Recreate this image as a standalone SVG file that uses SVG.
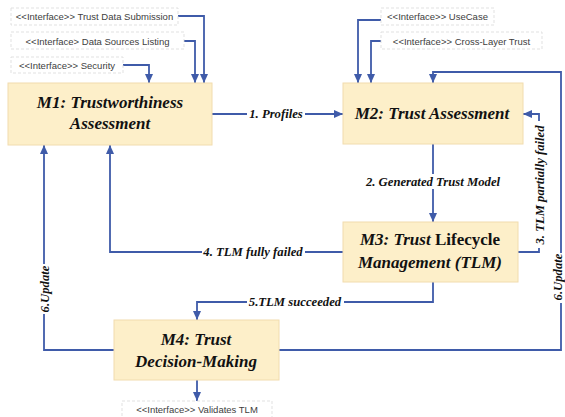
<svg xmlns="http://www.w3.org/2000/svg" width="565" height="417" viewBox="0 0 565 417">
<style>
.box{fill:#fdefc9;stroke:#f1dcae;stroke-width:1}
.ibox{fill:#fff;stroke:#d9d9d9;stroke-width:0.8;stroke-dasharray:3 2}
.itxt{font-size:9.5px;fill:#404040;text-anchor:middle}
.ntxt{font-size:17px;font-weight:bold;font-style:italic;fill:#111;text-anchor:middle}
.etxt{font-size:12.7px;font-weight:bold;font-style:italic;fill:#111;text-anchor:middle}
.bg{fill:#fff}
.ln{fill:none;stroke:#3f5ba9;stroke-width:1.8}
</style>
<defs>
<marker id="ah" markerUnits="userSpaceOnUse" markerWidth="10" markerHeight="10" refX="9" refY="5" orient="auto">
<path d="M0,1 L9,5 L0,9 Z" fill="#3f5ba9"/>
</marker>
</defs>
<rect width="565" height="417" fill="#fff"/>
<g id="connectors">
<path class="ln" marker-end="url(#ah)" d="M178,16 H204 V83"/>
<path class="ln" marker-end="url(#ah)" d="M184,41 H195 V83"/>
<path class="ln" marker-end="url(#ah)" d="M123,65 H149 V83"/>
<path class="ln" marker-end="url(#ah)" d="M381,20 H358 V83"/>
<path class="ln" marker-end="url(#ah)" d="M381,41 H371 V83"/>
<path class="ln" marker-end="url(#ah)" d="M212,114 H343"/>
<path class="ln" marker-end="url(#ah)" d="M433,144 V222"/>
<path class="ln" marker-end="url(#ah)" d="M518,252 H539 V114 H523"/>
<path class="ln" marker-end="url(#ah)" d="M343,252 H110 V145"/>
<path class="ln" marker-end="url(#ah)" d="M433,282 V302 H197 V320"/>
<path class="ln" marker-end="url(#ah)" d="M114,350 H44 V145"/>
<path class="ln" marker-end="url(#ah)" d="M279,350 H561 V72 H433 V83"/>
<path class="ln" marker-end="url(#ah)" d="M197,380 V401"/>
<g font-family="'Liberation Serif', 'DejaVu Serif', 'Times New Roman', serif">
<rect class="bg" x="247" y="106" width="58" height="15"/>
<text class="etxt" x="276" y="118">1. Profiles</text>
<rect class="bg" x="364" y="174" width="138" height="15"/>
<text class="etxt" x="433" y="186">2. Generated Trust Model</text>
<rect class="bg" x="532" y="121" width="14" height="127"/>
<text class="etxt" transform="translate(543.5,185) rotate(-90)">3. TLM  partially failed</text>
<rect class="bg" x="202" y="244" width="103" height="15"/>
<text class="etxt" x="253" y="256">4. TLM fully failed</text>
<rect class="bg" x="247" y="294" width="97" height="15"/>
<text class="etxt" x="295" y="306">5.TLM succeeded</text>
<rect class="bg" x="37" y="264" width="14" height="50"/>
<text class="etxt" transform="translate(48.5,289) rotate(-90)">6.Update</text>
<rect class="bg" x="551" y="253" width="14" height="50"/>
<text class="etxt" transform="translate(561.5,277) rotate(-90)">6.Update</text>
</g>
</g>
<g font-family="'Liberation Sans', Arial, sans-serif">
<g id="if-tds"><rect class="ibox" x="11" y="8" width="167" height="17"/><text class="itxt" x="94.5" y="20">&lt;&lt;Interface&gt;&gt; Trust Data Submission</text></g>
<g id="if-dsl"><rect class="ibox" x="11" y="32" width="173" height="17"/><text class="itxt" x="97.5" y="44.5">&lt;&lt;Interface&gt; Data Sources Listing</text></g>
<g id="if-sec"><rect class="ibox" x="11" y="57" width="112" height="16"/><text class="itxt" x="67" y="68.5">&lt;&lt;Interface&gt;&gt; Security</text></g>
<g id="if-uc"><rect class="ibox" x="381" y="8" width="113" height="17"/><text class="itxt" x="437.5" y="20">&lt;&lt;Interface&gt;&gt; UseCase</text></g>
<g id="if-clt"><rect class="ibox" x="381" y="32" width="161" height="17"/><text class="itxt" x="461.5" y="44.5">&lt;&lt;Interface&gt;&gt; Cross-Layer Trust</text></g>
<g id="if-vtlm"><rect class="ibox" x="122" y="401" width="150" height="20"/><text class="itxt" x="197" y="413">&lt;&lt;Interface&gt;&gt; Validates TLM</text></g>
</g>
<g font-family="'Liberation Serif', 'DejaVu Serif', 'Times New Roman', serif">
<g id="m1"><rect class="box" x="8" y="83" width="204" height="62"/><text class="ntxt" x="110" y="108">M1: Trustworthiness</text><text class="ntxt" x="110" y="129">Assessment</text></g>
<g id="m2"><rect class="box" x="343" y="83" width="180" height="61"/><text class="ntxt" x="432" y="119">M2: Trust Assessment</text></g>
<g id="m3"><rect class="box" x="343" y="222" width="175" height="60"/><text class="ntxt" x="430" y="245">M3: Trust <tspan font-style="normal">Lifecycle</tspan></text><text class="ntxt" x="430" y="268">Management (TLM)</text></g>
<g id="m4"><rect class="box" x="114" y="320" width="165" height="60"/><text class="ntxt" x="196" y="345">M4: Trust</text><text class="ntxt" x="196" y="367">Decision-Making</text></g>
</g>
</svg>
